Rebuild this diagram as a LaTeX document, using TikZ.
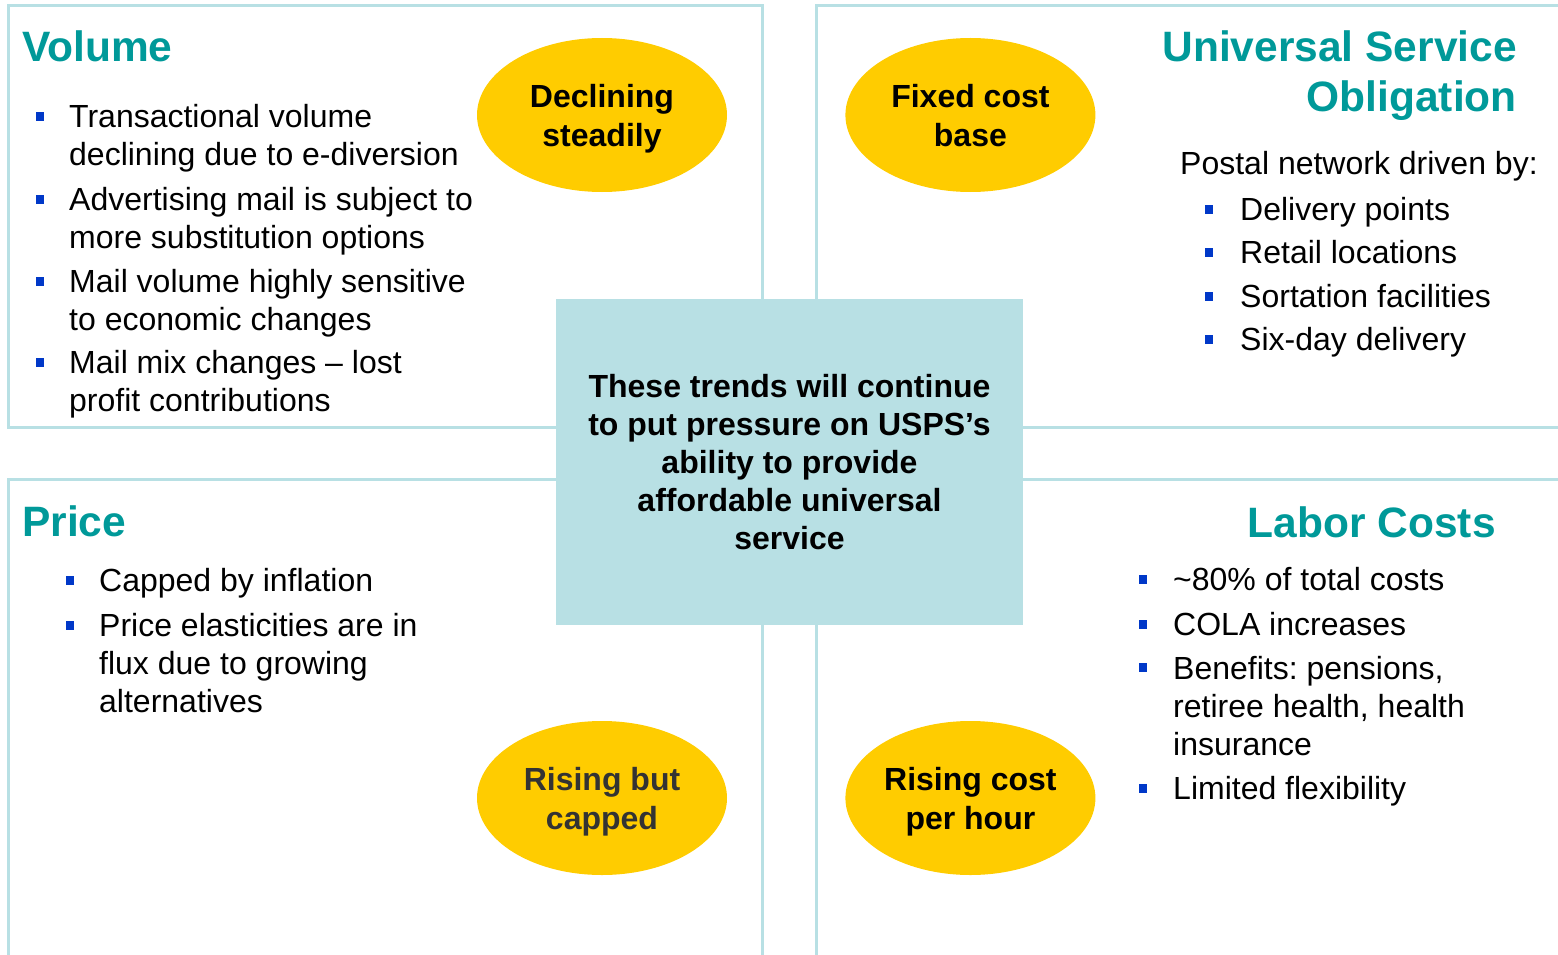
\documentclass[tikz,border=0pt]{standalone}
\usepackage{fontspec}
\setmainfont{Liberation Sans}
\usetikzlibrary{shapes.geometric,positioning}
\frenchspacing
\definecolor{panelline}{RGB}{184,224,228}
\definecolor{headteal}{RGB}{0,153,153}
\definecolor{ovalgold}{RGB}{255,204,0}
\definecolor{ovaltext}{RGB}{51,51,51}
\definecolor{bulletblue}{RGB}{0,56,200}
\tikzstyle{panel}   = [line width=3pt, color=panelline]
\tikzstyle{heading} = [inner sep=0, color=headteal, font=\fontsize{42.5}{50}\selectfont\bfseries]
\tikzstyle{item}    = [inner sep=0, anchor=base west, align=left, font=\fontsize{32}{38}\selectfont]
\tikzstyle{bullet}  = [rectangle, fill=bulletblue, inner sep=0, minimum size=8.5pt]
\tikzstyle{oval}    = [ellipse, fill=ovalgold, inner sep=0, minimum width=250pt, minimum height=154pt,
  align=center, text depth=0pt, font=\fontsize{32}{39}\selectfont\bfseries]

\begin{document}
\begin{tikzpicture}[x=1pt, y=-1pt]
\clip (0,0) rectangle (1558,955);
% quadrant frames
\draw[panel] (8,6) rectangle (762,427);
\draw[panel] (1570,6) -- (816,6) -- (816,427) -- (1570,427);
\draw[panel] (8,970) -- (8,479) -- (762,479) -- (762,970);
\draw[panel] (1570,479) -- (816,479) -- (816,970);

\node[rectangle, fill=panelline, inner sep=0, minimum width=467pt, minimum height=326pt,
  align=center, font=\fontsize{32}{38}\selectfont\bfseries] (trend) at (789.5,462)
  {These trends will continue\\to put pressure on USPS’s\\ability to provide\\affordable universal\\service};

\node[oval] (decl) at (602,115) {Declining\\steadily};
\node[oval, right=118pt of decl] (fixed) {Fixed cost\\base};
\node[oval, text=ovaltext] (capped) at (602,798) {Rising but\\capped};
\node[oval, right=118pt of capped] (hour) {Rising cost\\per hour};

% Volume (multi-line items sit on their last baseline)
\node[heading, anchor=base west] (vol) at (22,62) {Volume};
\node[bullet] (vb1) at (40,116.5) {};
\node[item] (v1) at (69,165) {Transactional volume\\declining due to e-diversion};
\node[bullet] (vb2) at (40,199.5) {};
\node[item] (v2) at (69,248) {Advertising mail is subject to\\more substitution options};
\node[bullet] (vb3) at (40,281.5) {};
\node[item] (v3) at (69,330) {Mail volume highly sensitive\\to economic changes};
\node[bullet] (vb4) at (40,362.5) {};
\node[item] (v4) at (69,411) {Mail mix changes -- lost\\profit contributions};

% Universal Service Obligation
\node[heading, anchor=base east, align=right] (uso) at (1517,112) {Universal Service\\Obligation};
\node[item] (postal) at (1180,175) {Postal network driven by:};
\node[bullet] (ub1) at (1209,209.5) {};
\node[item] (u1) at (1240,220) {Delivery points};
\node[bullet] (ub2) at (1209,252.5) {};
\node[item] (u2) at (1240,263) {Retail locations};
\node[bullet] (ub3) at (1209,296.5) {};
\node[item] (u3) at (1240,307) {Sortation facilities};
\node[bullet] (ub4) at (1209,339.5) {};
\node[item] (u4) at (1240,350) {Six-day delivery};

% Price
\node[heading, anchor=base west] (price) at (22,536) {Price};
\node[bullet] (pb1) at (70,580.5) {};
\node[item] (p1) at (99,591) {Capped by inflation};
\node[bullet] (pb2) at (70,625.5) {};
\node[item] (p2) at (99,712) {Price elasticities are in\\flux due to growing\\alternatives};

% Labor Costs
\node[heading, anchor=base east] (labor) at (1496,537) {Labor Costs};
\node[bullet] (lb1) at (1143,579.5) {};
\node[item] (l1) at (1173,590) {\textasciitilde80\% of total costs};
\node[bullet] (lb2) at (1143,624.5) {};
\node[item] (l2) at (1173,635) {COLA increases};
\node[bullet] (lb3) at (1143,667.5) {};
\node[item] (l3) at (1173,755) {Benefits: pensions,\\retiree health, health\\insurance};
\node[bullet] (lb4) at (1143,788.5) {};
\node[item] (l4) at (1173,799) {Limited flexibility};
\end{tikzpicture}
\end{document}
